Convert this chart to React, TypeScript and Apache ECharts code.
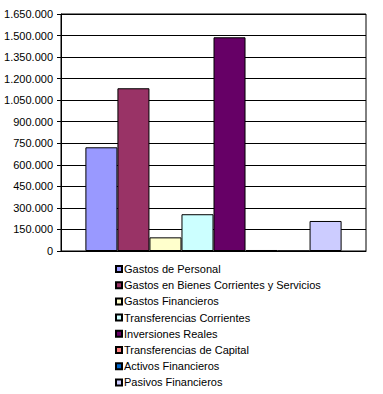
import React, { useEffect, useRef } from "react";
import * as echarts from "echarts";

const seriesNames = [
  "Gastos de Personal",
  "Gastos en Bienes Corrientes y Servicios",
  "Gastos Financieros",
  "Transferencias Corrientes",
  "Inversiones Reales",
  "Transferencias de Capital",
  "Activos Financieros",
  "Pasivos Financieros",
];
const seriesValues = [722000, 1133000, 95000, 256000, 1488000, 7000, 0, 209000];
const seriesColors = ["#9999FF", "#993366", "#FFFFCC", "#CCFFFF", "#660066", "#FF8080", "#0066CC", "#CCCCFF"];
const categories = [""];

const FONT = "'Liberation Sans', Arial, sans-serif";

const fmt = (v: number) => String(v).replace(/\B(?=(\d{3})+(?!\d))/g, ".");

export default function App() {
  const ref = useRef<HTMLDivElement>(null);
  useEffect(() => {
    if (!ref.current) return;
    const chart = echarts.init(ref.current, null, { renderer: "svg" });
    chart.setOption({
      animation: false,
      backgroundColor: "#ffffff",
      grid: {
        left: 61, top: 14, width: 305, height: 237,
        show: true, borderColor: "#000", borderWidth: 1, backgroundColor: "transparent",
      },
      legend: {
        orient: "vertical",
        left: 115,
        top: 262.5,
        height: 132,
        width: 260,
        padding: 0,
        itemWidth: 6,
        itemHeight: 6,
        itemGap: 3.2,
        icon: "rect",
        textStyle: { fontFamily: FONT, fontSize: 11, color: "#000", padding: [0, 0, 0, -3], lineHeight: 13 },
        data: seriesNames,
      },
      xAxis: {
        type: "category",
        data: categories,
        axisLine: { lineStyle: { color: "#000" } },
        axisTick: { show: false },
        axisLabel: { show: false },
      },
      yAxis: {
        type: "value",
        min: 0,
        max: 1650000,
        interval: 150000,
        axisLine: { show: true, lineStyle: { color: "#000" } },
        axisTick: { show: true, length: 4, lineStyle: { color: "#000" } },
        axisLabel: { fontFamily: FONT, fontSize: 11, color: "#000", margin: 8, formatter: fmt },
        splitLine: { lineStyle: { color: "#000", width: 1 } },
      },
      series: seriesNames.map((name, i) => ({
        name,
        type: "bar",
        data: [seriesValues[i]],
        barGap: "0%",
        barCategoryGap: "16%",
        itemStyle: { color: seriesColors[i], borderColor: "#000", borderWidth: 1 },
      })),
    });
    return () => chart.dispose();
  }, []);
  return <div ref={ref} style={{ width: 383, height: 394, position: "absolute", left: 0, top: 0 }} />;
}
